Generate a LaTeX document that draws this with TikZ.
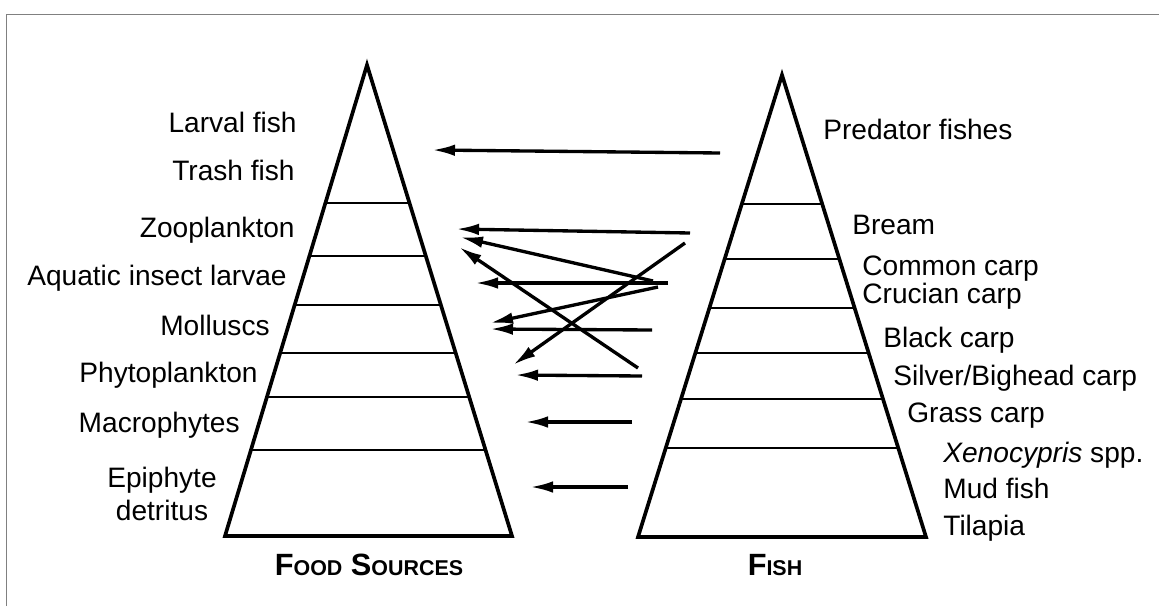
\documentclass[tikz,border=0pt]{standalone}
\usepackage{fontspec}
\setmainfont{Liberation Sans}
\usepackage{tikz}
\usetikzlibrary{arrows.meta,positioning,calc}
\newcommand{\scbig}[1]{{\fontsize{17.5}{20}\selectfont #1}}
\newcommand{\scsmall}[1]{{\fontsize{12.2}{14}\selectfont #1}}

\begin{document}
\begin{tikzpicture}[x=0.02cm, y=-0.02cm,
  pyramid/.style={draw, line width=2.1pt, line join=miter},
  level/.style={draw, line width=1.4pt},
  food/.style={anchor=base east, inner sep=0pt, font=\fontsize{16}{19}\selectfont},
  fish/.style={anchor=base west, inner sep=0pt, font=\fontsize{16}{19}\selectfont},
  title/.style={anchor=base, inner sep=0pt, font=\bfseries},
  feeds/.style={-{Latex[length=4.6mm, width=2.3mm]}, line width=1.9pt}
]

\useasboundingbox (0,0) rectangle (1159,606);

% Frame
\draw[gray, line width=0.5pt] (6,606) -- (6,14) -- (1159,14);

% Food pyramid
\coordinate (ftop) at (367,65);
\coordinate (fbl) at (225,536);
\coordinate (fbr) at (512,536);
\draw[pyramid] (ftop) -- (fbr) -- (fbl) -- cycle;
\draw[level] ($(ftop)!0.293!(fbl)$) -- ($(ftop)!0.293!(fbr)$);
\draw[level] ($(ftop)!0.4055!(fbl)$) -- ($(ftop)!0.4055!(fbr)$);
\draw[level] ($(ftop)!0.5096!(fbl)$) -- ($(ftop)!0.5096!(fbr)$);
\draw[level] ($(ftop)!0.6115!(fbl)$) -- ($(ftop)!0.6115!(fbr)$);
\draw[level] ($(ftop)!0.7049!(fbl)$) -- ($(ftop)!0.7049!(fbr)$);
\draw[level] ($(ftop)!0.8174!(fbl)$) -- ($(ftop)!0.8174!(fbr)$);

% Fish pyramid
\coordinate (stop) at (782,75);
\coordinate (sbl) at (638,537);
\coordinate (sbr) at (926,537);
\draw[pyramid] (stop) -- (sbr) -- (sbl) -- cycle;
\draw[level] ($(stop)!0.279!(sbl)$) -- ($(stop)!0.279!(sbr)$);
\draw[level] ($(stop)!0.398!(sbl)$) -- ($(stop)!0.398!(sbr)$);
\draw[level] ($(stop)!0.504!(sbl)$) -- ($(stop)!0.504!(sbr)$);
\draw[level] ($(stop)!0.602!(sbl)$) -- ($(stop)!0.602!(sbr)$);
\draw[level] ($(stop)!0.701!(sbl)$) -- ($(stop)!0.701!(sbr)$);
\draw[level] ($(stop)!0.807!(sbl)$) -- ($(stop)!0.807!(sbr)$);

% Food labels
\node[food] (larval) at (297,132) {Larval fish};
\node[food] (trash) at (295,180) {Trash fish};
\node[food] (zoo) at (295,237) {Zooplankton};
\node[food] (insect) at (287,285) {Aquatic insect larvae};
\node[food] (moll) at (270,335) {Molluscs};
\node[food] (phyto) at (258,382) {Phytoplankton};
\node[food] (macro) at (240,432) {Macrophytes};
\node[food, anchor=center, align=center] (epi) at (162,494) {Epiphyte\\detritus};

% Fish labels
\node[fish] (pred) at (823,139) {Predator fishes};
\node[fish] (bream) at (852,234) {Bream};
\node[fish] (common) at (862,275) {Common carp};
\node[fish] (crucian) at (862,303) {Crucian carp};
\node[fish] (black) at (883,347) {Black carp};
\node[fish] (silver) at (893,385) {Silver/Bighead carp};
\node[fish] (grass) at (907,422) {Grass carp};
\node[fish] (xeno) at (943,462) {\textit{Xenocypris} spp.};
\node[fish] (mud) at (943,498) {Mud fish};
\node[fish] (tilapia) at (943,535) {Tilapia};

% Titles
\node[title] (foodtitle) at (369,575) {\scbig{F}\scsmall{OOD}\scbig{ S}\scsmall{OURCES}};
\node[title] (fishtitle) at (775,575) {\scbig{F}\scsmall{ISH}};

% Feeding arrows
\coordinate (predOut) at (720,153);
\coordinate (fishIn) at (432,150);
\coordinate (breamOut) at (690,233);
\coordinate (zooIn) at (456,229);
\coordinate (carpOut) at (668,283);
\coordinate (insectIn) at (475,283);
\coordinate (carpOutB) at (653,281);
\coordinate (zooInB) at (460,237);
\coordinate (carpOutC) at (658,287);
\coordinate (mollInB) at (490,323);
\coordinate (silverOutB) at (638,368);
\coordinate (zooInC) at (459,247);
\coordinate (breamOutB) at (685,243);
\coordinate (phytoInB) at (513,365);
\coordinate (blackOut) at (652,330);
\coordinate (mollIn) at (490,329);
\coordinate (silverOut) at (642,376);
\coordinate (phytoIn) at (515,375);
\coordinate (grassOut) at (632,422);
\coordinate (macroIn) at (525,422);
\coordinate (mudOut) at (628,487);
\coordinate (epiIn) at (530,487);

\draw[feeds] (predOut) -- (fishIn);
\draw[feeds] (breamOut) -- (zooIn);
\draw[feeds] (carpOut) -- (insectIn);
\draw[feeds] (carpOutB) -- (zooInB);
\draw[feeds] (carpOutC) -- (mollInB);
\draw[feeds] (silverOutB) -- (zooInC);
\draw[feeds] (breamOutB) -- (phytoInB);
\draw[feeds] (blackOut) -- (mollIn);
\draw[feeds] (silverOut) -- (phytoIn);
\draw[feeds] (grassOut) -- (macroIn);
\draw[feeds] (mudOut) -- (epiIn);

\end{tikzpicture}
\end{document}
